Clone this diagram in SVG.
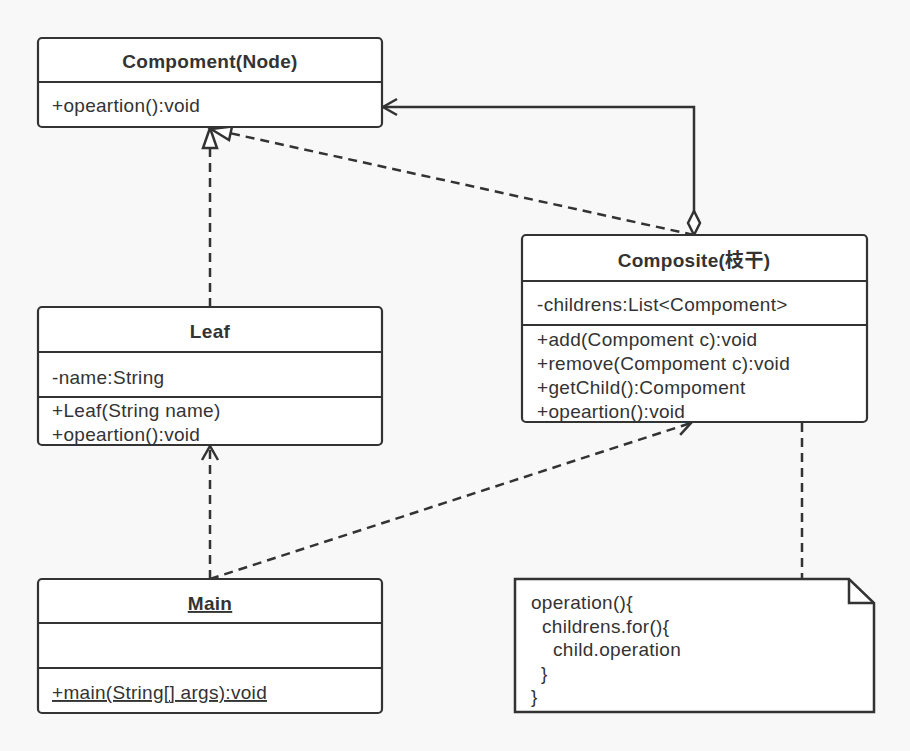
<svg xmlns="http://www.w3.org/2000/svg" width="910" height="751" viewBox="0 0 910 751">
<style>
.box{fill:#fff;stroke:#333;stroke-width:2.2}
.div{stroke:#333;stroke-width:2.2;fill:none}
.t{font-family:"Liberation Sans",Arial,"Noto Sans CJK SC",sans-serif;font-size:19px;letter-spacing:0.3px;fill:#333}
.b{font-weight:bold;text-anchor:middle}
.u{text-decoration:underline}
.c{fill:none;stroke:#333;stroke-width:2.5}
.d{stroke-dasharray:9 6}
</style>
<defs>
<marker id="tri" markerUnits="userSpaceOnUse" orient="auto" refX="0" refY="0" markerWidth="30" markerHeight="30" overflow="visible">
<path d="M0,0 L-20,-7 L-20,7 Z" fill="#fff" stroke="#333" stroke-width="2.5"/>
</marker>
<marker id="open" markerUnits="userSpaceOnUse" orient="auto" refX="0" refY="0" markerWidth="30" markerHeight="30" overflow="visible">
<path d="M-14,-8 L0,0 L-14,8" fill="none" stroke="#333" stroke-width="2.5"/>
</marker>
<marker id="dia" markerUnits="userSpaceOnUse" orient="auto" refX="0" refY="0" markerWidth="30" markerHeight="30" overflow="visible">
<path d="M0,0 L12,-6 L24,0 L12,6 Z" fill="#fff" stroke="#333" stroke-width="2.5"/>
</marker>
</defs>
<rect width="910" height="751" fill="#f8f8f8"/>
<g id="connectors">
<path class="c d" d="M210,307 L210,128" marker-end="url(#tri)"/>
<path class="c d" d="M694,235 L211,129" marker-end="url(#tri)"/>
<path class="c" d="M694,235 L694,107 L383,107" marker-start="url(#dia)" marker-end="url(#open)"/>
<path class="c d" d="M210,579 L210,446" marker-end="url(#open)"/>
<path class="c d" d="M210,579 L691,423" marker-end="url(#open)"/>
<path class="c d" d="M802,423 L802,579"/>
</g>
<g id="compoment">
<rect class="box" x="38" y="38" width="344" height="89" rx="4"/>
<line class="div" x1="38" y1="82" x2="382" y2="82"/>
<text class="t b" x="210" y="68">Compoment(Node)</text>
<text class="t" x="52" y="112">+opeartion():void</text>
</g>
<g id="composite">
<rect class="box" x="522" y="235" width="345" height="187" rx="4"/>
<line class="div" x1="522" y1="281" x2="867" y2="281"/>
<line class="div" x1="522" y1="325" x2="867" y2="325"/>
<text class="t b" x="694" y="267">Composite(枝干)</text>
<text class="t" x="537" y="311">-childrens:List&lt;Compoment&gt;</text>
<text class="t" x="537" y="346">+add(Compoment c):void</text>
<text class="t" x="537" y="370">+remove(Compoment c):void</text>
<text class="t" x="537" y="394">+getChild():Compoment</text>
<text class="t" x="537" y="418">+opeartion():void</text>
</g>
<g id="leaf">
<rect class="box" x="38" y="307" width="344" height="138" rx="4"/>
<line class="div" x1="38" y1="352" x2="382" y2="352"/>
<line class="div" x1="38" y1="397" x2="382" y2="397"/>
<text class="t b" x="210" y="338">Leaf</text>
<text class="t" x="52" y="384">-name:String</text>
<text class="t" x="52" y="417">+Leaf(String name)</text>
<text class="t" x="52" y="441">+opeartion():void</text>
</g>
<g id="main">
<rect class="box" x="38" y="579" width="344" height="134" rx="4"/>
<line class="div" x1="38" y1="623" x2="382" y2="623"/>
<line class="div" x1="38" y1="668" x2="382" y2="668"/>
<text class="t b u" x="210" y="610">Main</text>
<text class="t u" x="52" y="699">+main(String[] args):void</text>
</g>
<g id="note">
<path d="M515,579 L849,579 L874,603 L874,712 L515,712 Z" fill="#fff" stroke="#333" stroke-width="2.5"/>
<path d="M849,579 L849,603 L874,603" fill="none" stroke="#333" stroke-width="2.5"/>
<text class="t" x="531" y="609">operation(){</text>
<text class="t" x="542" y="633">childrens.for(){</text>
<text class="t" x="553" y="656">child.operation</text>
<text class="t" x="541" y="680">}</text>
<text class="t" x="531" y="703">}</text>
</g>
</svg>
